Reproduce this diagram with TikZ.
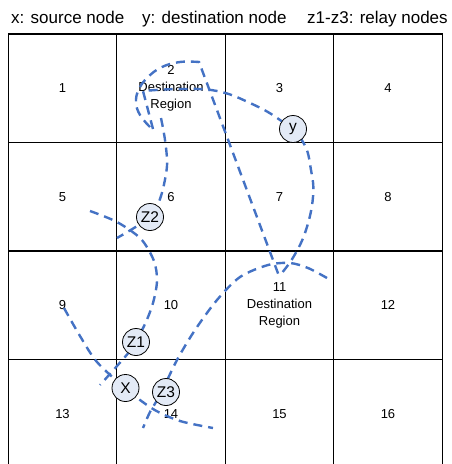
\documentclass[tikz,border=0pt]{standalone}
\usepackage{fontspec}
\setmainfont{Liberation Sans}
\usetikzlibrary{positioning}
\definecolor{cRange}{HTML}{4472C4}
\definecolor{cNode} {HTML}{E3EAF6}

\begin{document}
\begin{tikzpicture}[x=1pt, y=-1pt,
        cell/.style = {draw, line width=1.1pt, minimum size=108.5pt, inner sep=0pt, outer sep=0pt, align=center, font=\fontsize{13}{17}\selectfont},
        relay/.style = {circle, draw, line width=0.8pt, fill=cNode, minimum size=27pt, inner sep=0pt, font=\fontsize{15.5}{15.5}\selectfont},
        legend/.style = {inner sep=0pt, anchor=base west, font=\fontsize{17}{17}\selectfont},
        txrange/.style = {draw=cRange, line width=2.4pt, dash pattern=on 9pt off 6pt} ]
      \useasboundingbox (0,0) rectangle (451,464);
      \clip (0,0) rectangle (451,464);
      % legend line
      \node[legend] (lx) at (11,23) {x: source node};
      \node[legend] (ly) at (142,23) {y: destination node};
      \node[legend] (lz) at (307,23) {z1-z3: relay nodes};
      % 4x4 grid of regions
      \node[cell] (c1) at (62.5,88.25) {1};
      \node[cell, right=0pt of c1] (c2) {2\\Destination\\Region};
      \node[cell, right=0pt of c2] (c3) {3};
      \node[cell, right=0pt of c3] (c4) {4};
      \node[cell, below=0pt of c1] (c5) {5};
      \node[cell, right=0pt of c5] (c6) {6};
      \node[cell, right=0pt of c6] (c7) {7};
      \node[cell, right=0pt of c7] (c8) {8};
      \node[cell, below=0pt of c5] (c9) {9};
      \node[cell, right=0pt of c9] (c10) {10};
      \node[cell, right=0pt of c10] (c11) {11\\Destination\\Region};
      \node[cell, right=0pt of c11] (c12) {12};
      \node[cell, below=0pt of c9] (c13) {13};
      \node[cell, right=0pt of c13] (c14) {14};
      \node[cell, right=0pt of c14] (c15) {15};
      \node[cell, right=0pt of c15] (c16) {16};
      % transmission ranges
      \draw[txrange] plot[smooth, tension=0.7] coordinates {(150,127) (140,115) (136,102) (139,89) (148,77) (162,67) (180,62) (199,62)} -- (279,276);
      \draw[txrange] (153,129) -- (143,91) -- plot[smooth, tension=0.7] coordinates {(143,91) (180,89) (217,91) (250,103) (280,120) (303,142) (311,170) (313,197) (306,230) (294,256) (281,274)};
      \draw[txrange] plot[smooth] coordinates {(161,118) (165,140) (167,166) (161,196) (150,217) (117,238)};
      \draw[txrange] plot[smooth] coordinates {(90,211) (117,222) (141,239) (154,261) (157,281) (153,303) (145,324) (132,348) (117,366) (100,385)};
      \draw[txrange] plot[smooth] coordinates {(64,308) (80,336) (97,362) (125,388) (153,409) (180,421) (213,428)};
      \draw[txrange] plot[smooth] coordinates {(327,278) (308,268) (290,263) (268,265) (240,277) (217,300) (195,330) (177,360) (160,395) (150,412) (143,428)};
      % nodes
      \node[relay] (y) at (293,129) {y};
      \node[relay] (z2) at (150,217) {Z2};
      \node[relay] (z1) at (136,342) {Z1};
      \node[relay] (x) at (125.5,388) {X};
      \node[relay] (z3) at (166,392) {Z3};
    \end{tikzpicture}
\end{document}
